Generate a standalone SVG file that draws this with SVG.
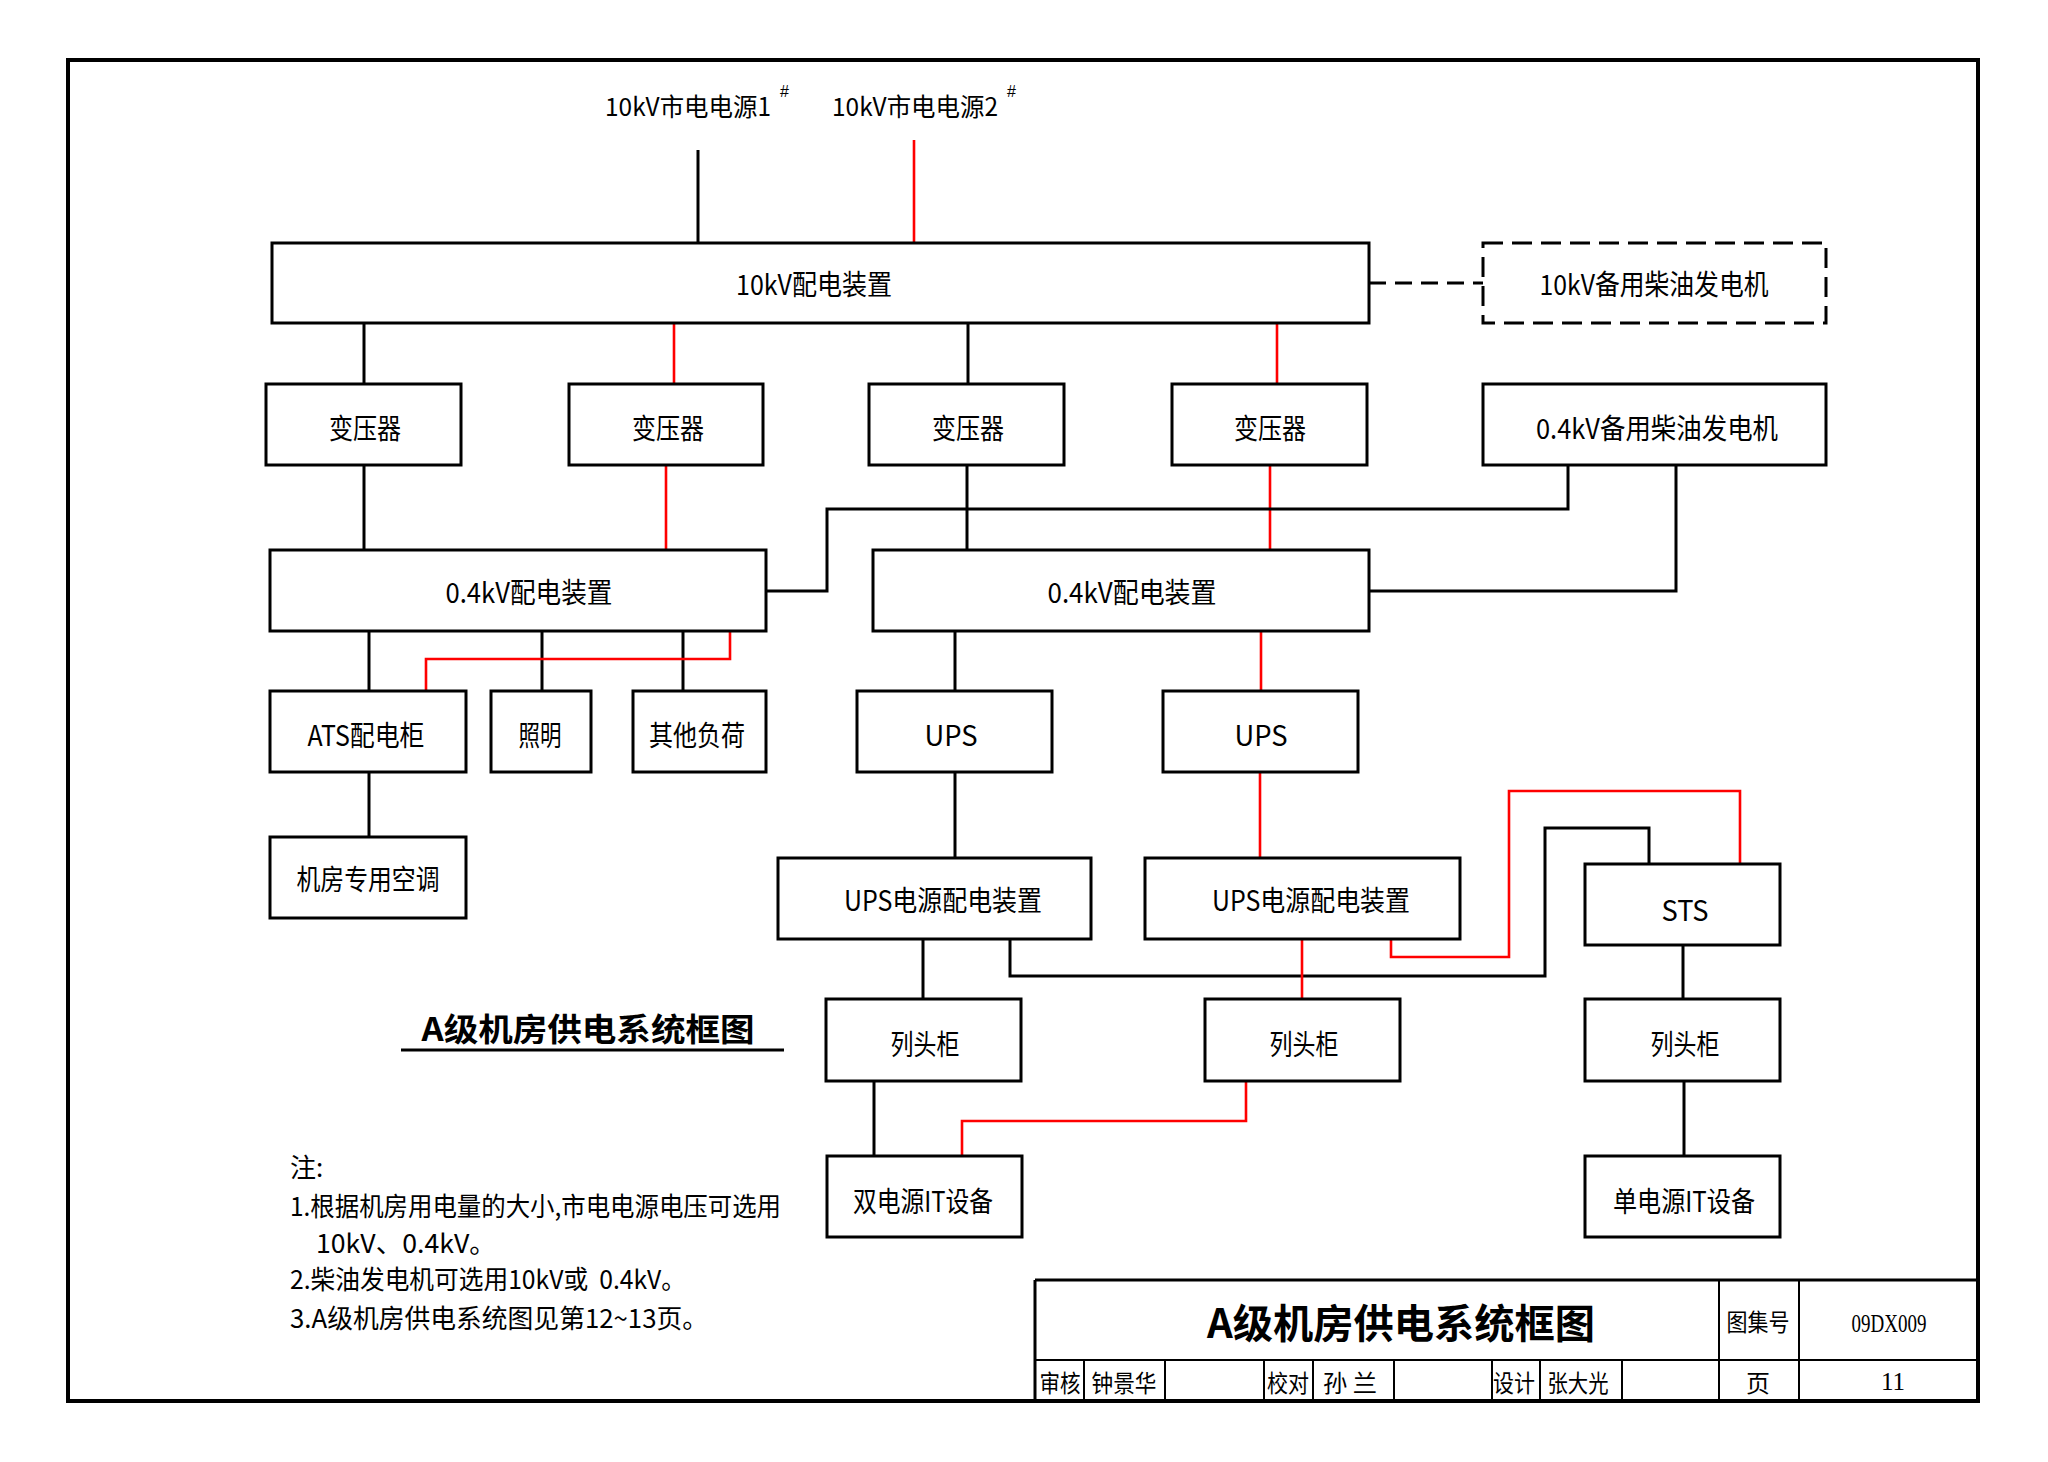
<svg xmlns="http://www.w3.org/2000/svg" width="2048" height="1462" viewBox="0 0 2048 1462">
<style>
.box{fill:#fff;stroke:#000;stroke-width:3}
.dbox{fill:#fff;stroke:#000;stroke-width:3;stroke-dasharray:20 9}
.k{fill:none;stroke:#000;stroke-width:3}
.r{fill:none;stroke:#f00;stroke-width:2.6}
.tb{fill:none;stroke:#000;stroke-width:2}
.t{font-family:"Noto Sans CJK SC","Liberation Sans",sans-serif;font-size:28px;text-anchor:middle;dominant-baseline:central;fill:#000}
.n{font-family:"Noto Sans CJK SC","Liberation Sans",sans-serif;font-size:26px;dominant-baseline:central;fill:#000}
.b{font-family:"Noto Sans CJK SC","Liberation Sans",sans-serif;font-weight:bold;text-anchor:middle;dominant-baseline:central;fill:#000}
.s{font-family:"Liberation Serif",serif;font-size:25px;text-anchor:middle;dominant-baseline:central;fill:#000}
.sm{font-family:"Noto Sans CJK SC","Liberation Sans",sans-serif;font-size:24px;text-anchor:middle;dominant-baseline:central;fill:#000}
.src{font-family:"Noto Sans CJK SC","Liberation Sans",sans-serif;font-size:25px;dominant-baseline:central;fill:#000}
.sup{font-family:"Liberation Sans",sans-serif;font-size:16px;fill:#000}
</style>
<rect x="0" y="0" width="2048" height="1462" fill="#fff"/>
<rect id="frame" x="68" y="60" width="1910" height="1341" fill="none" stroke="#000" stroke-width="4"/>

<g id="connectors">
<path class="k" d="M698,150V243"/>
<path class="r" d="M914,140V243"/>
<path class="k" d="M1369,283H1483" stroke-dasharray="17 9"/>
<path class="k" d="M364,323V384"/>
<path class="r" d="M674,323V384"/>
<path class="k" d="M968,323V384"/>
<path class="r" d="M1277,323V384"/>
<path class="k" d="M364,465V550"/>
<path class="r" d="M666,465V550"/>
<path class="k" d="M967,465V550"/>
<path class="r" d="M1270,465V550"/>
<path class="k" d="M766,591H827V509H1568V465"/>
<path class="k" d="M1369,591H1676V465"/>
<path class="k" d="M369,631V691"/>
<path class="k" d="M542,631V691"/>
<path class="k" d="M683,631V691"/>
<path class="r" d="M730,631V659H426V691"/>
<path class="k" d="M955,631V691"/>
<path class="r" d="M1261,631V691"/>
<path class="k" d="M369,772V837"/>
<path class="k" d="M955,772V858"/>
<path class="r" d="M1260,772V858"/>
<path class="k" d="M923,939V999"/>
<path class="k" d="M1010,939V976H1545V828H1649V864"/>
<path class="r" d="M1302,939V999"/>
<path class="r" d="M1391,939V957H1509V791H1740V864"/>
<path class="k" d="M874,1081V1156"/>
<path class="r" d="M1246,1081V1121H962V1156"/>
<path class="k" d="M1683,945V999"/>
<path class="k" d="M1684,1081V1156"/>
</g>

<g id="src1"><text class="src" x="605" y="105" textLength="166" lengthAdjust="spacingAndGlyphs">10kV市电电源1</text><text class="sup" x="780" y="97">#</text></g>
<g id="src2"><text class="src" x="832" y="105" textLength="166" lengthAdjust="spacingAndGlyphs">10kV市电电源2</text><text class="sup" x="1007" y="97">#</text></g>

<g id="bus10"><rect class="box" x="272" y="243" width="1097" height="80"/><text class="t" x="814" y="283" textLength="156" lengthAdjust="spacingAndGlyphs">10kV配电装置</text></g>
<g id="gen10"><rect class="dbox" x="1483" y="243" width="343" height="80"/><text class="t" x="1654" y="283" textLength="229" lengthAdjust="spacingAndGlyphs">10kV备用柴油发电机</text></g>

<g id="tr1"><rect class="box" x="266" y="384" width="195" height="81"/><text class="t" x="365" y="427" textLength="72" lengthAdjust="spacingAndGlyphs">变压器</text></g>
<g id="tr2"><rect class="box" x="569" y="384" width="194" height="81"/><text class="t" x="668" y="427" textLength="72" lengthAdjust="spacingAndGlyphs">变压器</text></g>
<g id="tr3"><rect class="box" x="869" y="384" width="195" height="81"/><text class="t" x="968" y="427" textLength="72" lengthAdjust="spacingAndGlyphs">变压器</text></g>
<g id="tr4"><rect class="box" x="1172" y="384" width="195" height="81"/><text class="t" x="1270" y="427" textLength="72" lengthAdjust="spacingAndGlyphs">变压器</text></g>
<g id="gen04"><rect class="box" x="1483" y="384" width="343" height="81"/><text class="t" x="1657" y="427" textLength="242" lengthAdjust="spacingAndGlyphs">0.4kV备用柴油发电机</text></g>

<g id="lv1"><rect class="box" x="270" y="550" width="496" height="81"/><text class="t" x="529" y="591" textLength="167" lengthAdjust="spacingAndGlyphs">0.4kV配电装置</text></g>
<g id="lv2"><rect class="box" x="873" y="550" width="496" height="81"/><text class="t" x="1132" y="591" textLength="169" lengthAdjust="spacingAndGlyphs">0.4kV配电装置</text></g>

<g id="ats"><rect class="box" x="270" y="691" width="196" height="81"/><text class="t" x="366" y="734" textLength="117" lengthAdjust="spacingAndGlyphs">ATS配电柜</text></g>
<g id="light"><rect class="box" x="491" y="691" width="100" height="81"/><text class="t" x="540" y="734" textLength="43" lengthAdjust="spacingAndGlyphs">照明</text></g>
<g id="other"><rect class="box" x="633" y="691" width="133" height="81"/><text class="t" x="697" y="734" textLength="96" lengthAdjust="spacingAndGlyphs">其他负荷</text></g>
<g id="ups1"><rect class="box" x="857" y="691" width="195" height="81"/><text class="t" x="951" y="734" textLength="53" lengthAdjust="spacingAndGlyphs">UPS</text></g>
<g id="ups2"><rect class="box" x="1163" y="691" width="195" height="81"/><text class="t" x="1261" y="734" textLength="53" lengthAdjust="spacingAndGlyphs">UPS</text></g>

<g id="ac"><rect class="box" x="270" y="837" width="196" height="81"/><text class="t" x="368" y="878" textLength="143" lengthAdjust="spacingAndGlyphs">机房专用空调</text></g>
<g id="upspd1"><rect class="box" x="778" y="858" width="313" height="81"/><text class="t" x="943" y="899" textLength="198" lengthAdjust="spacingAndGlyphs">UPS电源配电装置</text></g>
<g id="upspd2"><rect class="box" x="1145" y="858" width="315" height="81"/><text class="t" x="1311" y="899" textLength="198" lengthAdjust="spacingAndGlyphs">UPS电源配电装置</text></g>
<g id="sts"><rect class="box" x="1585" y="864" width="195" height="81"/><text class="t" x="1685" y="909" textLength="47" lengthAdjust="spacingAndGlyphs">STS</text></g>

<g id="col1"><rect class="box" x="826" y="999" width="195" height="82"/><text class="t" x="925" y="1043" textLength="69" lengthAdjust="spacingAndGlyphs">列头柜</text></g>
<g id="col2"><rect class="box" x="1205" y="999" width="195" height="82"/><text class="t" x="1304" y="1043" textLength="69" lengthAdjust="spacingAndGlyphs">列头柜</text></g>
<g id="col3"><rect class="box" x="1585" y="999" width="195" height="82"/><text class="t" x="1685" y="1043" textLength="69" lengthAdjust="spacingAndGlyphs">列头柜</text></g>

<g id="dualit"><rect class="box" x="827" y="1156" width="195" height="81"/><text class="t" x="923" y="1200" textLength="140" lengthAdjust="spacingAndGlyphs">双电源IT设备</text></g>
<g id="singleit"><rect class="box" x="1585" y="1156" width="195" height="81"/><text class="t" x="1684" y="1200" textLength="142" lengthAdjust="spacingAndGlyphs">单电源IT设备</text></g>

<g id="caption">
<text class="b" x="588" y="1027" font-size="32" textLength="333" lengthAdjust="spacingAndGlyphs">A级机房供电系统框图</text>
<path class="k" d="M401,1050H784"/>
</g>

<g id="notes">
<text class="n" x="290" y="1165">注:</text>
<text class="n" x="290" y="1204" textLength="491" lengthAdjust="spacingAndGlyphs">1.根据机房用电量的大小,市电电源电压可选用</text>
<text class="n" x="316" y="1241" textLength="180" lengthAdjust="spacingAndGlyphs">10kV、0.4kV。</text>
<text class="n" x="290" y="1277" textLength="396" lengthAdjust="spacingAndGlyphs">2.柴油发电机可选用10kV或&#160;&#160;0.4kV。</text>
<text class="n" x="290" y="1316" textLength="418" lengthAdjust="spacingAndGlyphs">3.A级机房供电系统图见第12~13页。</text>
</g>

<g id="titleblock">
<path class="k" d="M1035,1280H1978M1035,1280V1401"/>
<path class="tb" d="M1035,1360H1978M1719,1280V1401M1799,1280V1401M1084,1360V1401M1165,1360V1401M1264,1360V1401M1313,1360V1401M1394,1360V1401M1492,1360V1401M1540,1360V1401M1622,1360V1401"/>
<text class="b" x="1401" y="1321" font-size="40" textLength="388" lengthAdjust="spacingAndGlyphs">A级机房供电系统框图</text>
<text class="sm" x="1758" y="1320" font-size="27" textLength="63" lengthAdjust="spacingAndGlyphs">图集号</text>
<text class="s" x="1889" y="1323" textLength="75" lengthAdjust="spacingAndGlyphs">09DX009</text>
<text class="sm" x="1060" y="1381" textLength="41" lengthAdjust="spacingAndGlyphs">审核</text>
<text class="sm" x="1124" y="1381" textLength="65" lengthAdjust="spacingAndGlyphs">钟景华</text>
<text class="sm" x="1288" y="1381" textLength="42" lengthAdjust="spacingAndGlyphs">校对</text>
<text class="sm" x="1350" y="1381" textLength="54" lengthAdjust="spacingAndGlyphs">孙 兰</text>
<text class="sm" x="1514" y="1381" textLength="42" lengthAdjust="spacingAndGlyphs">设计</text>
<text class="sm" x="1578" y="1381" textLength="61" lengthAdjust="spacingAndGlyphs">张大光</text>
<text class="sm" x="1758" y="1381">页</text>
<text class="s" x="1893" y="1381">11</text>
</g>
</svg>
